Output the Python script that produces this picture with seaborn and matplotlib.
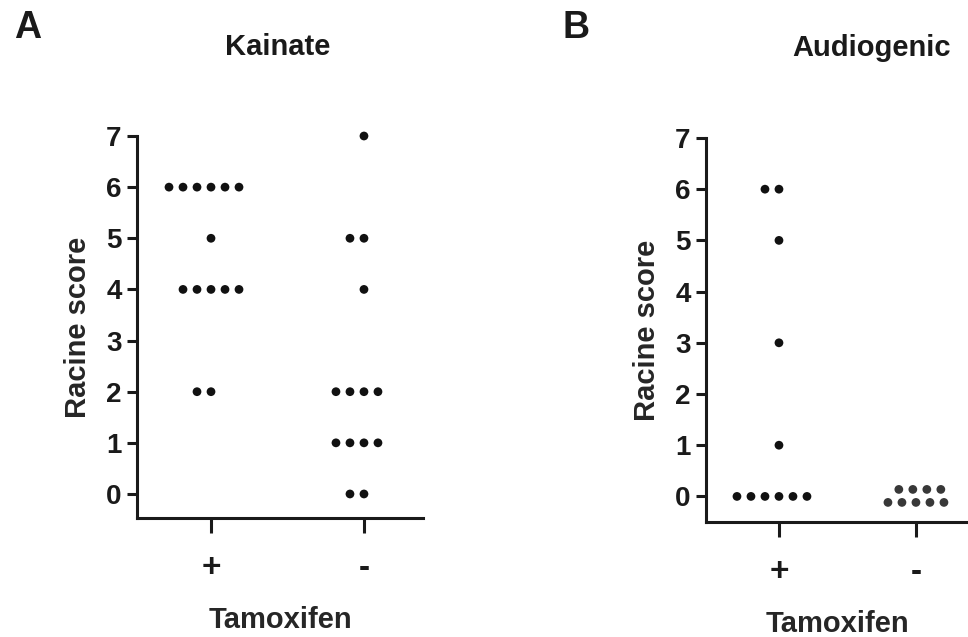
import numpy as np
import pandas as pd
import matplotlib
matplotlib.use('Agg')
import matplotlib.pyplot as plt
import seaborn as sns

# Racine scores
groups = ['+', '-']
kainate_pos = [6, 6, 6, 6, 6, 6, 5, 4, 4, 4, 4, 4, 2, 2]
kainate_neg = [7, 5, 5, 4, 2, 2, 2, 2, 1, 1, 1, 1, 0, 0]
audio_pos = [6, 6, 5, 3, 1, 0, 0, 0, 0, 0, 0]
audio_neg = [0, 0, 0, 0, 0, 0, 0, 0, 0]
yticks = [0, 1, 2, 3, 4, 5, 6, 7]


def make_df(pos, neg):
    return pd.DataFrame({
        'Tamoxifen': ['+'] * len(pos) + ['-'] * len(neg),
        'score': pos + neg,
    })


sns.set_style('ticks')
plt.rcParams['font.family'] = ['Liberation Sans', 'DejaVu Sans']
plt.rcParams['font.weight'] = 'bold'

fig = plt.figure(figsize=(9.68, 6.37), dpi=100)
ax_a = fig.add_axes([0.1415, 0.1868, 0.2955, 0.5997])
ax_b = fig.add_axes([0.7293, 0.1805, 0.2707, 0.6029])


def style_axis(ax, xlim, ylim):
    ax.set_xlim(*xlim)
    ax.set_ylim(*ylim)
    ax.set_yticks(yticks)
    sns.despine(ax=ax)
    for side in ['left', 'bottom']:
        ax.spines[side].set_linewidth(2.2)
        ax.spines[side].set_color('#1a1a1a')
    ax.tick_params(axis='y', length=7, width=2.2, pad=4, labelsize=20, colors='#1a1a1a')
    ax.tick_params(axis='x', length=11, width=2.2, pad=14, labelsize=24, colors='#1a1a1a')
    for lab in ax.get_xticklabels() + ax.get_yticklabels():
        lab.set_fontweight('bold')
    ax.set_ylabel('Racine score', fontsize=21, fontweight='bold', labelpad=10)
    ax.set_xlabel('Tamoxifen', fontsize=21, fontweight='bold', labelpad=16)
    for coll in ax.collections:
        coll.set_clip_on(False)


# Kainate
df_a = make_df(kainate_pos, kainate_neg)
sns.swarmplot(data=df_a, x='Tamoxifen', y='score', order=groups, ax=ax_a,
              color='#111111', size=6.3, linewidth=3.3, edgecolor='none')
style_axis(ax_a, (-0.484, 1.386), (-0.47, 7))

# Audiogenic
df_b = make_df(audio_pos, audio_neg)
sns.swarmplot(data=df_b, x='Tamoxifen', y='score', order=groups, ax=ax_b,
              palette=['#111111', '#383838'], hue='Tamoxifen', legend=False,
              size=6.3, linewidth=3.3, edgecolor='none')
style_axis(ax_b, (-0.533, 1.38), (-0.5, 7))

# wrap the long row at zero for the '-' group into two rows, as in the original
fig.canvas.draw()
for coll in ax_b.collections:
    offs = np.asarray(coll.get_offsets())
    if len(offs) == len(audio_neg) and np.allclose(offs[:, 1], 0) and offs[:, 0].mean() > 0.5:
        pix = ax_b.transData.transform(offs)
        xs = np.sort(pix[:, 0])
        step = np.median(np.diff(xs))
        cx = xs.mean()
        cy = pix[0, 1]
        n_top = len(xs) // 2
        n_bot = len(xs) - n_top
        new = []
        for k in range(n_bot):
            new.append((cx + (k - (n_bot - 1) / 2) * step, cy - 6))
        for k in range(n_top):
            new.append((cx + (k - (n_top - 1) / 2) * step, cy + 7))
        coll.set_offsets(ax_b.transData.inverted().transform(np.array(new)))

# titles and panel letters
fig.text(278 / 968, 1 - 47 / 637, 'Kainate', ha='center', va='center', fontsize=21, fontweight='bold', color='#1a1a1a')
fig.text(872 / 968, 1 - 48 / 637, 'Audiogenic', ha='center', va='center', fontsize=21, fontweight='bold', color='#1a1a1a')
fig.text(28 / 968, 1 - 28 / 637, 'A', ha='center', va='center', fontsize=27, fontweight='bold', color='#1a1a1a')
fig.text(576 / 968, 1 - 28 / 637, 'B', ha='center', va='center', fontsize=27, fontweight='bold', color='#1a1a1a')

fig.savefig('out.png', dpi=100)
